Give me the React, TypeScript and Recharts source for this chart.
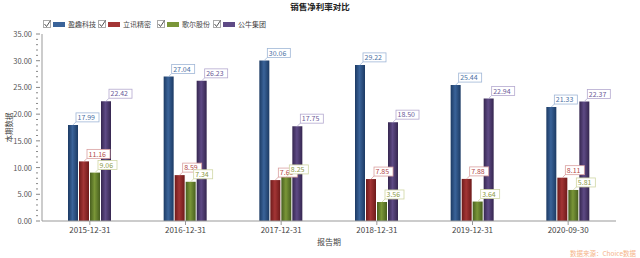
import { BarChart, Bar, XAxis, YAxis, LabelList } from 'recharts'

const periods = ['2015-12-31', '2016-12-31', '2017-12-31', '2018-12-31', '2019-12-31', '2020-09-30']
const yingqu = [17.99, 27.04, 30.06, 29.22, 25.44, 21.33]
const luxshare = [11.16, 8.59, 7.66, 7.85, 7.88, 8.11]
const goertek = [9.06, 7.34, 8.25, 3.56, 3.64, 5.81]
const bull = [22.42, 26.23, 17.75, 18.5, 22.94, 22.37]
const majorTicks = [0, 5, 10, 15, 20, 25, 30, 35]
const yTicks = Array.from({ length: 36 }, (_, i) => i)

const series = [
  { key: 'yingqu', name: '盈趣科技', dark: '#1c3a63', light: '#3a6399', box: '#9fb6d6', text: '#4a70a4', left: 43 },
  { key: 'luxshare', name: '立讯精密', dark: '#6e1a1a', light: '#a33535', box: '#d9a0a0', text: '#b24a4a', left: 98 },
  { key: 'goertek', name: '歌尔股份', dark: '#485f1f', light: '#7a9638', box: '#cfd6a4', text: '#8d9c48', left: 157 },
  { key: 'bull', name: '公牛集团', dark: '#35264f', light: '#5e4a85', box: '#b4a9cf', text: '#6a5a98', left: 213 },
]

const data = periods.map((p, i) => ({
  period: p,
  yingqu: yingqu[i],
  luxshare: luxshare[i],
  goertek: goertek[i],
  bull: bull[i],
}))

const FONT = '"Noto Sans CJK SC", "Noto Sans", sans-serif'

const YTick = (props: any) => {
  const { x, y, payload } = props
  const major = majorTicks.includes(payload.value)
  return (
    <g>
      <line x1={x + 2} x2={x + (major ? 6 : 4)} y1={y} y2={y} stroke="#888" />
      {major && (
        <text x={x - 2} y={y + 3} textAnchor="end" fontSize={7.5} fill="#555" fontFamily={FONT}>
          {payload.value.toFixed(2)}
        </text>
      )}
    </g>
  )
}

const makeLabel = (box: string, color: string) => (props: any) => {
  const { x, y, width, value } = props
  const cx = x + width / 2
  const txt = Number(value).toFixed(2)
  const w = txt.length * 4 + 3
  const bx = cx + 3
  const by = y - 12
  return (
    <g>
      <line x1={cx} y1={y} x2={bx} y2={by + 9} stroke={box} strokeWidth={0.8} />
      <rect x={bx} y={by} width={w} height={9} fill="#fff" stroke={box} strokeWidth={0.8} />
      <text x={bx + 1.5} y={by + 7.2} fontSize={7} fill={color} fontFamily={FONT}>
        {txt}
      </text>
    </g>
  )
}

const CheckBox = () => (
  <svg width={8} height={8} style={{ marginRight: 2 }}>
    <rect x={0.5} y={0.5} width={7} height={7} fill="none" stroke="#aaa" />
    <path d="M1.5 4 L3.5 6.5 L7.5 0.5" fill="none" stroke="#555" strokeWidth={1} />
  </svg>
)

export default function App() {
  return (
    <div
      style={{
        position: 'fixed',
        left: 0,
        top: 0,
        width: 640,
        height: 258,
        background: '#fff',
        fontFamily: FONT,
      }}
    >
      <div
        style={{
          position: 'absolute',
          top: 0,
          left: 0,
          width: 640,
          textAlign: 'center',
          fontSize: 8.5,
          fontWeight: 700,
          color: '#222',
          lineHeight: '12px',
        }}
      >
        销售净利率对比
      </div>
      {series.map((s) => (
        <div
          key={s.key}
          style={{
            position: 'absolute',
            top: 19,
            left: s.left,
            display: 'flex',
            alignItems: 'center',
            fontSize: 7,
            color: '#444',
            lineHeight: '10px',
          }}
        >
          <CheckBox />
          <span
            style={{
              display: 'inline-block',
              width: 12,
              height: 5,
              background: s.light,
              marginRight: 3,
            }}
          />
          {s.name}
        </div>
      ))}
      <BarChart
        width={640}
        height={258}
        data={data}
        margin={{ top: 34, right: 24, bottom: 0, left: 0 }}
        barSize={10}
        barGap={1}
      >
        <defs>
          {series.map((s) => (
            <linearGradient key={s.key} id={`g-${s.key}`} x1="0" y1="0" x2="1" y2="0">
              <stop offset="0%" stopColor={s.dark} />
              <stop offset="45%" stopColor={s.light} />
              <stop offset="100%" stopColor={s.dark} />
            </linearGradient>
          ))}
        </defs>
        <XAxis
          dataKey="period"
          height={37}
          stroke="#999"
          tick={{ fontSize: 8, fill: '#444', fontFamily: FONT }}
          tickSize={4}
          label={{ value: '报告期', position: 'insideBottom', offset: 13, fontSize: 8, fill: '#444' }}
        />
        <YAxis
          width={42}
          domain={[0, 35]}
          ticks={yTicks}
          interval={0}
          stroke="#999"
          tickLine={false}
          tick={<YTick />}
          label={{
            value: '本期数据',
            angle: -90,
            position: 'insideLeft',
            offset: 9,
            dy: 15,
            fontSize: 7.5,
            fill: '#444',
          }}
        />
        {series.map((s) => (
          <Bar key={s.key} dataKey={s.key} name={s.name} fill={`url(#g-${s.key})`} isAnimationActive={false}>
            <LabelList dataKey={s.key} content={makeLabel(s.box, s.text)} />
          </Bar>
        ))}
      </BarChart>
      <div
        style={{
          position: 'absolute',
          right: 4,
          top: 248,
          fontSize: 6.5,
          color: '#f5b48a',
          lineHeight: '10px',
        }}
      >
        数据来源：Choice数据
      </div>
    </div>
  )
}
